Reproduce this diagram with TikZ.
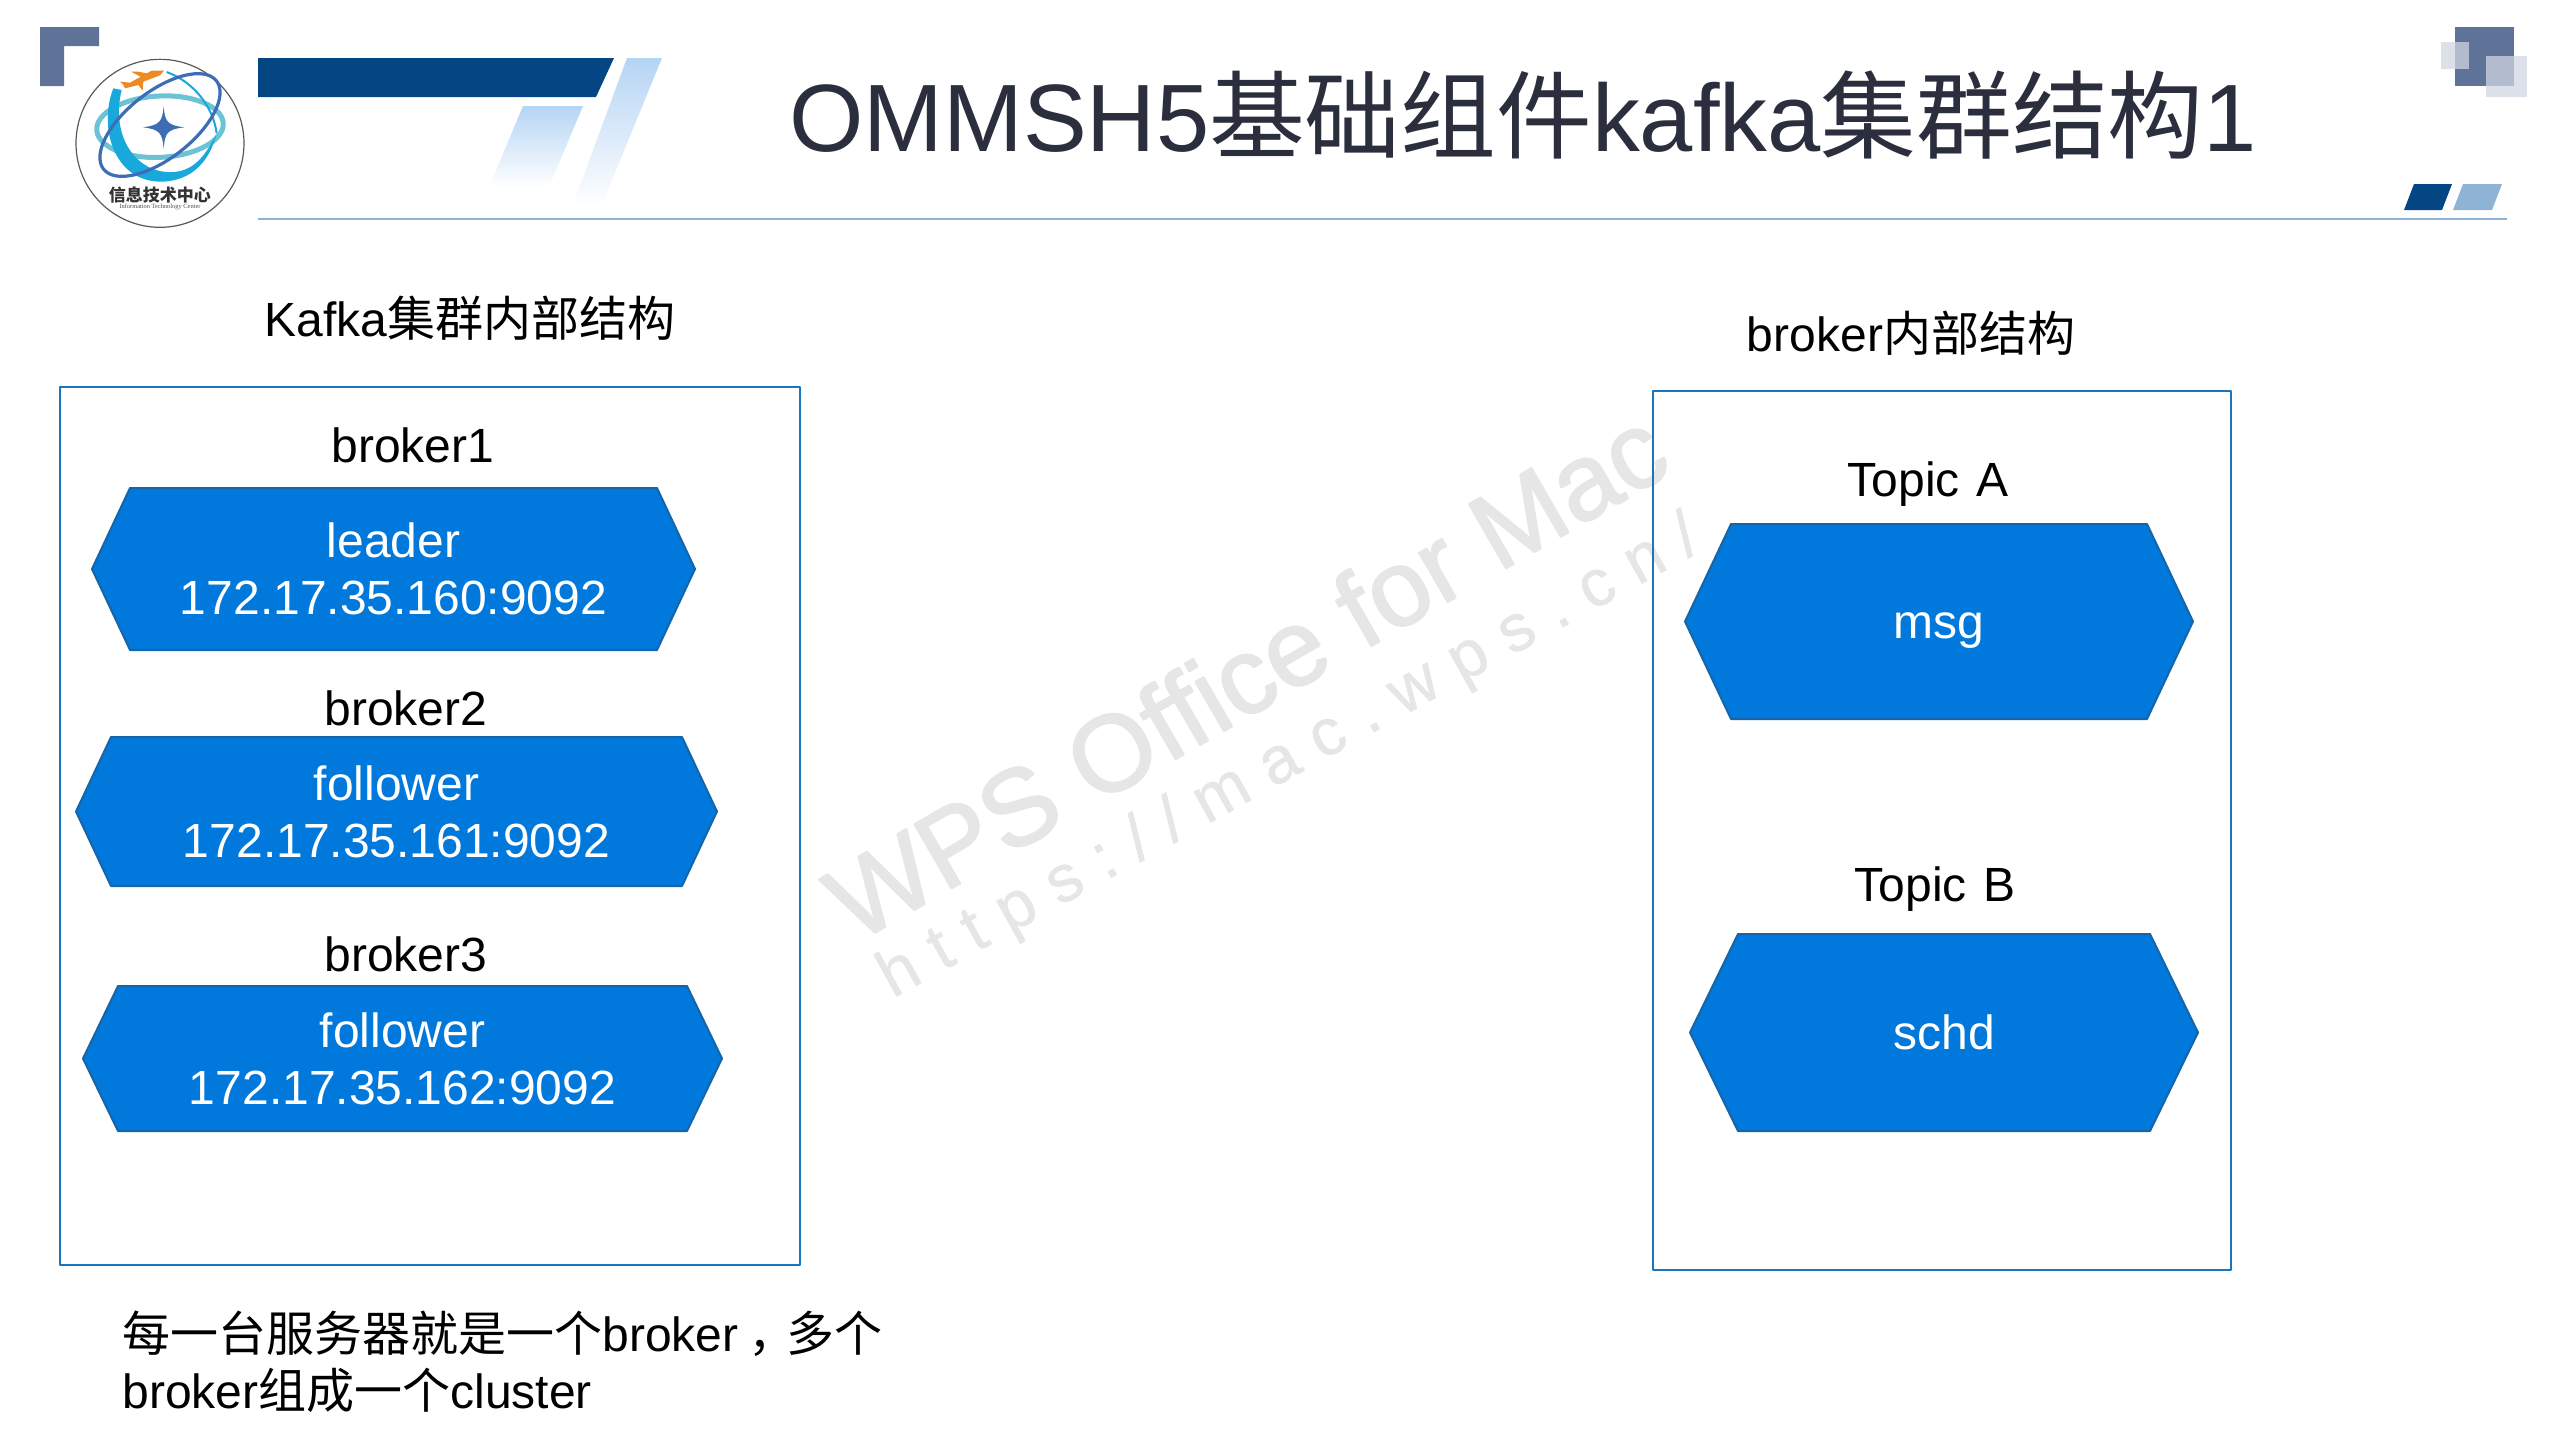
\documentclass[tikz,border=0pt]{standalone}
\usepackage{fontspec}
\setmainfont{Liberation Sans}
\newfontfamily\cjk{Noto Sans CJK SC}
\newfontfamily\logoen{Liberation Serif}
\newfontfamily\wmhead[FakeBold=1.8]{Liberation Sans}
\newfontfamily\wmfont[LetterSpace=30.5,FakeBold=1]{Liberation Sans}
\definecolor{navy}{HTML}{044683}
\definecolor{slate}{HTML}{5F7399}
\definecolor{paleslate}{HTML}{D0D5E2}
\definecolor{rulecol}{HTML}{8FB3D5}
\definecolor{stripe}{HTML}{B5D4F4}
\definecolor{hexfill}{HTML}{0078DC}
\definecolor{hexline}{HTML}{1565A8}
\definecolor{boxline}{HTML}{1976BE}
\definecolor{titlecol}{HTML}{2B2E3D}
\definecolor{wmcol}{HTML}{E6E6E6}
\definecolor{logoteal}{HTML}{6CC3D5}
\definecolor{logocyan}{HTML}{18A8DC}
\definecolor{logoblue}{HTML}{3D6DB5}
\definecolor{logoorange}{HTML}{EE8A22}
\tikzset{
  txt/.style={font=\fontsize{24}{28.5}\selectfont,text height=.72em,text depth=.2em,inner sep=0pt},
  hextext/.style={font=\fontsize{24}{28.5}\selectfont,text=white,align=center,inner sep=0pt},
  outerbox/.style={draw=boxline,line width=1pt},
  hexagon/.style={fill=hexfill,draw=hexline,line width=1pt,line join=round}
}
\begin{document}
\begin{tikzpicture}[x=0.5pt,y=-0.5pt,line join=round]
	\useasboundingbox (0,0) rectangle (2560,1440);
	% Watermark
	\node [rotate=30,text=wmcol,font=\wmhead\fontsize{54}{54}\selectfont] (wm1) at (1246,674) {WPS Office for Mac};
	\node [rotate=29,text=wmcol,font=\wmfont\fontsize{33}{33}\selectfont] (wm2) at (1290,759) {https://mac.wps.cn/};
	% Header decorations
	\fill [slate] (40,27)--(99,27)--(99,46)--(64,46)--(64,86)--(40,86)--cycle;
	\fill [navy] (258,58)--(614,58)--(596,97)--(258,97)--cycle;
	\shade [top color=stripe,bottom color=white] (627,58)--(662,58)--(601,207)--(572,207)--cycle;
	\shade [top color=stripe,bottom color=white] (523,106)--(583,106)--(549,187)--(489,187)--cycle;
	\draw [rulecol,line width=1pt] (258,219)--(2507,219);
	\fill [slate] (2455,27) rectangle (2514,86);
	\fill [paleslate,opacity=.75] (2441,42) rectangle (2469,69);
	\fill [paleslate,opacity=.75] (2486,56) rectangle (2527,97);
	\fill [navy] (2414,184)--(2452,184)--(2442,210)--(2404,210)--cycle;
	\fill [rulecol] (2463,184)--(2502,184)--(2492,210)--(2453,210)--cycle;
	% Logo
	\begin{scope}[shift={(70,50)},scale=1/3]
		\draw [gray!70!black,line width=.6pt] (270,280) circle (252);
		\draw [logoteal,line width=2.5pt,rotate around={3:(270,230)}] (270,230) ellipse [x radius=190,y radius=92];
		\draw [logocyan,line width=1pt] (290,66) .. controls (370,95) and (430,170) .. (440,250);
		\fill [logocyan] (130,115) .. controls (85,230) and (130,400) .. (280,395) .. controls (370,390) and (420,330) .. (440,250) .. controls (400,330) and (360,375) .. (280,365) .. controls (180,350) and (125,240) .. (155,120) -- cycle;
		\draw [logoblue,line width=1.6pt,rotate around={38:(270,225)}] (270,225) ellipse [x radius=215,y radius=100];
		\fill [logoblue] (281,168) .. controls (285,215) and (290,225) .. (343,232) .. controls (290,238) and (285,250) .. (281,296) .. controls (277,250) and (270,238) .. (219,232) .. controls (270,225) and (277,215) .. (281,168) -- cycle;
		\fill [logoorange] (150,95)--(180,98)--(245,62)--(282,62)--(270,76)--(220,95)--(218,122)--(205,105)--(165,115)--(160,105)--cycle;
		\fill [logoorange] (183,65)--(205,65)--(240,72)--(215,82)--cycle;
		\node [font=\cjk\bfseries\fontsize{8.5}{8.5}\selectfont,text=black!80,inner sep=0pt] (logozh) at (270,435) {信息技术中心};
		\node [font=\logoen\fontsize{3.2}{3.2}\selectfont,text=black!70,inner sep=0pt] (logoen) at (270,472) {Information Technology Center};
	\end{scope}
	% Title
	\node [text=titlecol,font=\fontsize{47.85}{48}\selectfont,inner sep=0pt] (title) at (1523,115) {OMMSH5{\cjk 基础组件}kafka{\cjk 集群结构}1};
	% Left part
	\node [txt] (kafkahead) at (470,331) {Kafka{\cjk 集群内部结构}};
	\draw [outerbox] (60,387) rectangle (800,1265);
	\node [txt] (label1) at (413,457) {broker1};
	\node [txt] (label2) at (406,720) {broker2};
	\node [txt] (label3) at (406,966) {broker3};
	% Right part
	\node [txt] (brokerhead) at (1911,346) {broker{\cjk 内部结构}};
	\draw [outerbox] (1653,391) rectangle (2231,1270);
	\node [txt] (labelA) at (1928,491) {Topic\kern1.5pt{} A};
	\node [txt] (labelB) at (1935,896) {Topic\kern1.5pt{} B};
	% Hexagons
	\foreach \n/\xl/\xr/\yt/\yb/\d/\t in {
		leader/92/695/488/650/38/{leader\\172.17.35.160:9092},
		follow1/76/717/737/886/35/{follower\\172.17.35.161:9092},
		follow2/83/722/986/1131/35/{follower\\172.17.35.162:9092},
		msg/1685/2193/524/719/46/{\rule{0pt}{21.7pt}msg},
		schd/1690/2198/934/1131/48/{schd}}{
		\draw [hexagon] (\xl,{(\yt+\yb)/2})--(\xl+\d,\yt)--(\xr-\d,\yt)--(\xr,{(\yt+\yb)/2})--(\xr-\d,\yb)--(\xl+\d,\yb)--cycle;
		\node [hextext] (\n) at ({(\xl+\xr)/2},{(\yt+\yb)/2}) {\t};
	}
	% Note
	\node [anchor=north west,align=left,font=\fontsize{24}{28.5}\selectfont,inner sep=0pt] (note) at (122,1310) {{\cjk 每一台服务器就是一个}broker{\cjk \kern5pt，\kern-5pt多个}\\broker{\cjk 组成一个}cluster};
\end{tikzpicture}
\end{document}
